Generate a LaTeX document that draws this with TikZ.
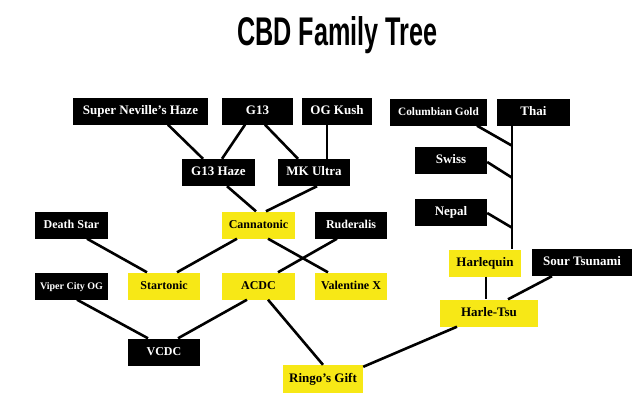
\documentclass[tikz,border=0pt]{standalone}
\usepackage{fontspec}
\setmainfont{Liberation Serif}
\newfontfamily\titlefont{Liberation Sans}
\usetikzlibrary{calc}
\definecolor{cbdyellow}{RGB}{247,232,22}
\tikzset{
  box/.style={rectangle, inner sep=0pt, minimum height=27pt,
    font=\fontsize{13}{14}\selectfont\bfseries, text height=8.5pt, text depth=2pt},
  darkbox/.style={box, fill=black, text=white},
  litebox/.style={box, fill=cbdyellow, text=black},
  small/.style={font=\fontsize{12}{13}\selectfont\bfseries},
  link/.style={line width=2.6pt, black},
}
\begin{document}
\begin{tikzpicture}[x=1pt,y=-1pt]
\useasboundingbox (0,0) rectangle (640,407);
\fill[white] (0,0) rectangle (640,407);

% title
\node (title) at (337.5,35) {\titlefont\fontsize{40}{40}\selectfont\scalebox{0.63}[1]{\bfseries CBD Family Tree}};

% nodes
\node[darkbox, minimum width=135pt] (snh) at (140.5,111) {Super Neville's Haze};
\node[darkbox, minimum width=71pt] (g13) at (257.5,111) {G13};
\node[darkbox, minimum width=70pt] (ogk) at (337,111) {OG Kush};
\node[darkbox, minimum width=73pt] (g13h) at (218.5,172.5) {G13 Haze};
\node[darkbox, minimum width=72pt] (mku) at (314,172.5) {MK Ultra};

\node[darkbox, minimum width=97pt, font=\fontsize{11.3}{12}\selectfont\bfseries] (colg) at (438.5,112) {Columbian Gold};
\node[darkbox, minimum width=73pt] (thai) at (533.5,112) {Thai};
\node[darkbox, minimum width=72pt] (swiss) at (451,160.5) {Swiss};
\node[darkbox, minimum width=72pt] (nepal) at (451,212) {Nepal};
\node[litebox, minimum width=72pt] (harl) at (485,263) {Harlequin};
\node[darkbox, minimum width=100pt] (sour) at (582,262.5) {Sour Tsunami};
\node[litebox, minimum width=98pt] (htsu) at (489,313) {Harle-Tsu};

\node[darkbox, small, minimum width=73pt] (dstar) at (71.5,225) {Death Star};
\node[litebox, small, minimum width=73pt] (canna) at (258.5,225) {Cannatonic};
\node[darkbox, small, minimum width=72pt] (rude) at (351,225) {Ruderalis};
\node[darkbox, minimum width=73pt, font=\fontsize{10}{11}\selectfont\bfseries] (viper) at (71.5,286) {Viper City OG};
\node[litebox, small, minimum width=72pt] (starto) at (164,286) {Startonic};
\node[litebox, small, minimum width=73pt] (acdc) at (258.5,286) {ACDC};
\node[litebox, small, minimum width=72pt] (valx) at (351,286) {Valentine X};
\node[darkbox, small, minimum width=72pt] (vcdc) at (164,352) {VCDC};
\node[litebox, minimum width=80pt, minimum height=28pt] (ringo) at (323,379) {Ringo's Gift};

% junction points on the Thai line
\coordinate (j1) at ($(thai.south)+(-21.5,20)$);
\coordinate (j2) at ($(thai.south)+(-21.5,52)$);
\coordinate (j3) at ($(thai.south)+(-21.5,102)$);

% connectors
\draw[link] ([xshift=27.5pt]snh.south) -- ([xshift=-15.5pt]g13h.north);
\draw[link] ([xshift=-12.5pt]g13.south) -- ([xshift=3.5pt]g13h.north);
\draw[link] ([xshift=7.5pt]g13.south) -- ([xshift=-16pt]mku.north);
\draw[link] ([xshift=-10pt]ogk.south) -- ([xshift=13pt]mku.north);
\draw[link] ([xshift=8.5pt]g13h.south) -- ([xshift=-2.5pt]canna.north);
\draw[link] ([xshift=3pt]mku.south) -- ([xshift=7.5pt]canna.north);

\draw[link] ([xshift=15.5pt]dstar.south) -- ([xshift=-17pt]starto.north);
\draw[link] ([xshift=-21.5pt]canna.south) -- ([xshift=13pt]starto.north);
\draw[link] ([xshift=9.5pt]canna.south) -- ([xshift=-23pt]valx.north);
\draw[link] ([xshift=-14pt]rude.south) -- ([xshift=19.5pt]acdc.north);

\draw[link] ([xshift=5.5pt]viper.south) -- ([xshift=-16pt]vcdc.north);
\draw[link] ([xshift=-11.5pt]acdc.south) -- ([xshift=14pt]vcdc.north);
\draw[link] ([xshift=9.5pt]acdc.south) -- ([xshift=0pt]ringo.north);
\draw[link] ([yshift=-2pt]ringo.north east) -- ([xshift=-32pt]htsu.south);

\draw[link] ([xshift=-21.5pt]thai.south) -- ([xshift=27pt]harl.north);
\draw[link] ([xshift=38.5pt]colg.south) -- (j1);
\draw[link] ([yshift=-1.5pt]swiss.east) -- (j2);
\draw[link] ([yshift=-1pt]nepal.east) -- (j3);
\draw[link] ([xshift=1pt]harl.south) -- ([xshift=-3pt]htsu.north);
\draw[link] ([xshift=-30pt]sour.south) -- ([xshift=19pt]htsu.north);
\end{tikzpicture}
\end{document}
